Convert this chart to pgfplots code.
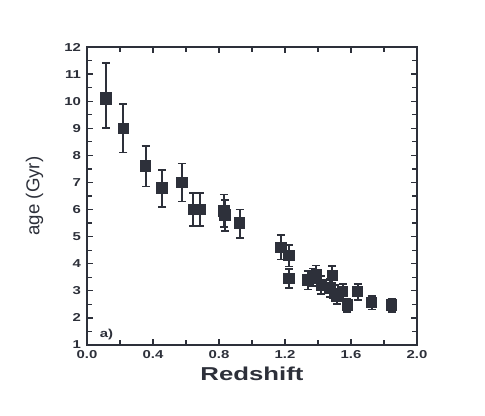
\documentclass[border=0pt]{standalone}
\usepackage{pgfplots}
\pgfplotsset{compat=1.18}
\usepackage{pgfplotstable}
\usepackage{fontspec}
\setmainfont{Liberation Sans}
\newfontfamily\widefont[FakeStretch=1.3]{Liberation Sans}
\newfontfamily\xwidefont[FakeStretch=1.38]{Liberation Sans}
\definecolor{ink}{RGB}{45,48,58}

\pgfplotstableread{
x      y     ep    em
0.115  10.1  1.3   1.1
0.22   9.0   0.9   0.9
0.355  7.6   0.75  0.75
0.455  6.8   0.65  0.7
0.575  7.0   0.7   0.7
0.645  6.0   0.6   0.6
0.685  6.0   0.6   0.6
0.83   5.95  0.6   0.6
0.835  5.8   0.55  0.6
0.925  5.5   0.5   0.55
1.175  4.6   0.45  0.45
1.225  4.3   0.4   0.4
1.225  3.46  0.35  0.35
1.337  3.4   0.33  0.35
1.372  3.5   0.33  0.33
1.39   3.6   0.33  0.33
1.42   3.22  0.33  0.33
1.473  3.1   0.33  0.33
1.487  3.56  0.35  0.35
1.503  2.91  0.3   0.3
1.513  2.79  0.28  0.28
1.55   2.97  0.28  0.28
1.578  2.47  0.25  0.25
1.64   2.97  0.28  0.3
1.725  2.56  0.25  0.25
1.846  2.47  0.25  0.25
}\agedata

\begin{document}
\begin{tikzpicture}
\path[use as bounding box] (-65.25pt,-52.5pt) rectangle (298.5pt,258.75pt);
\begin{axis}[
  at={(0,0)}, anchor=south west,
  scale only axis,
  width=247.5pt, height=223.5pt,
  xmin=0, xmax=2, ymin=1, ymax=12,
  xtick={0,0.4,...,2.0}, minor xtick={0.2,0.6,...,1.8},
  ytick={1,...,12}, minor ytick={1.5,2.5,...,11.5},
  tick align=inside, xtick pos=both, ytick pos=both,
  major tick length=4.5pt, minor tick length=3.5pt,
  axis line style={ink, line width=1.1pt},
  every tick/.style={ink, line width=0.9pt},
  tick label style={font=\widefont\bfseries\fontsize{8.6}{9}\selectfont, text=ink},
  /pgf/number format/assume math mode=true,
  xticklabel style={yshift=-0.8pt, /pgf/number format/.cd, fixed, fixed zerofill, precision=1},
  yticklabel style={xshift=-1pt, /pgf/number format/.cd, fixed, precision=0},
  xlabel={\xwidefont\bfseries Redshift},
  ylabel={age (Gyr)},
  label style={font=\fontsize{14}{16}\selectfont, text=ink},
  xlabel style={yshift=1pt},
  ylabel style={yshift=9pt},
  clip=false,
]
\addplot[ink, only marks, mark=square*, mark size=3.7pt, line width=1.2pt,
  error bars/.cd, y dir=both, y explicit,
  error mark options={rotate=90, mark size=3pt, line width=1.2pt, ink},
  error bar style={line width=1.4pt, ink}]
  table[x=x, y=y, y error plus=ep, y error minus=em] {\agedata};
\addplot[ink, only marks, mark=square*, mark size=4.3pt] coordinates {(0.115,10.1)};
\node[anchor=west, font=\widefont\bfseries\fontsize{8.6}{9}\selectfont, text=ink] at (axis cs:0.05,1.4) {a)};
\end{axis}
\end{tikzpicture}
\end{document}
